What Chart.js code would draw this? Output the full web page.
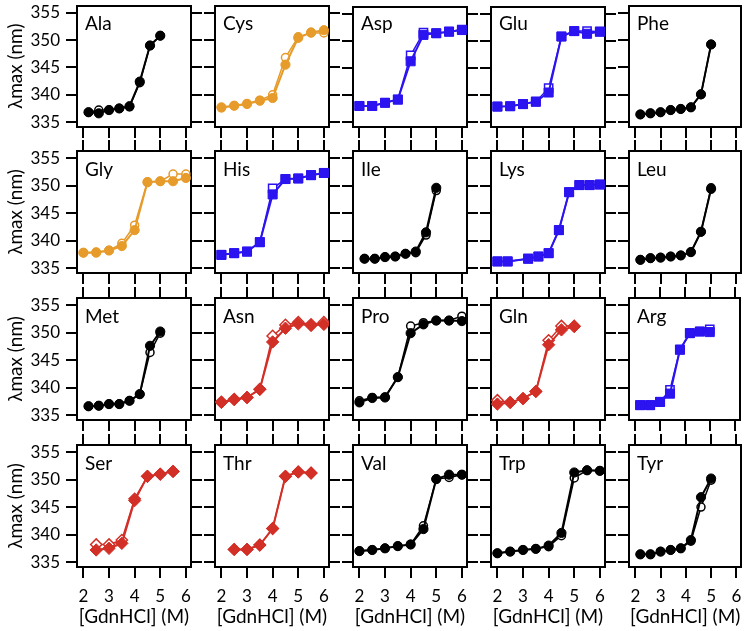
<!DOCTYPE html>
<html><head><meta charset="utf-8">
<script src="https://cdn.jsdelivr.net/npm/chart.js@4.4.1/dist/chart.umd.min.js"></script>
<style>
html,body{margin:0;padding:0;background:#fff;}
#wrap{position:relative;width:747px;height:631px;overflow:hidden;background:#fff;}
#wrap canvas{position:absolute;}
.lbl{position:absolute;font-family:Lato,sans-serif;font-size:19px;line-height:19px;color:#000;white-space:nowrap;}
</style></head><body><div id="wrap"></div>
<script>
// ---- tick labels ----
const xTicks = [2, 3, 4, 5, 6];
const yTicks = [335, 340, 345, 350, 355];
const xTitle = '[GdnHCl] (M)';
const yTitle = 'λmax (nm)';

// ---- x values (GdnHCl, M) ----
const xStep04 = [2.2, 2.6, 3.0, 3.4, 3.8, 4.2, 4.6, 5.0];
const xStep05 = [2.0, 2.5, 3.0, 3.5, 4.0, 4.5, 5.0, 5.5, 6.0];
const xLys = [2.0, 2.4, 3.2, 3.6, 4.0, 4.4, 4.8, 5.2, 5.6, 6.0];
const xGln = [2.0, 2.5, 3.0, 3.5, 4.0, 4.5, 5.0];
const xSerThr = [2.5, 3.0, 3.5, 4.0, 4.5, 5.0, 5.5];

// ---- lambda max (nm): filled and open series ----
const alaFilled = [336.8, 336.6, 337.2, 337.5, 337.9, 342.4, 349.0, 350.8];
const alaOpen   = [336.8, 337.2, 337.2, 337.5, 337.8, 342.2, 349.0, 350.8];
const cysFilled = [337.7, 338.0, 338.3, 338.9, 339.4, 345.5, 350.4, 351.4, 351.8];
const cysOpen   = [337.6, 338.0, 338.4, 339.0, 340.0, 346.8, 350.6, 351.3, 351.3];
const aspFilled = [338.0, 338.0, 338.6, 339.2, 346.3, 351.2, 351.5, 351.8, 352.1];
const aspOpen   = [338.0, 338.0, 338.6, 339.2, 347.4, 351.6, 351.5, 351.8, 352.2];
const gluFilled = [337.9, 337.95, 338.35, 338.8, 340.5, 350.9, 351.9, 351.4, 351.8];
const gluOpen   = [337.9, 337.95, 338.35, 338.8, 341.3, 350.9, 351.9, 351.9, 351.8];
const pheFilled = [336.4, 336.6, 336.8, 337.2, 337.4, 337.7, 340.1, 349.2];
const pheOpen   = [336.4, 336.6, 336.8, 337.2, 337.4, 337.7, 340.0, 349.2];

const glyFilled = [337.8, 337.8, 338.2, 339.0, 341.9, 350.6, 350.8, 350.8, 351.4];
const glyOpen   = [337.8, 337.9, 338.2, 339.5, 342.8, 350.7, 350.8, 352.1, 352.1];
const hisFilled = [337.4, 337.7, 338.0, 339.7, 348.4, 351.2, 351.3, 351.9, 352.3];
const hisOpen   = [337.4, 337.7, 338.0, 339.7, 349.5, 351.2, 351.3, 351.9, 352.3];
const ileFilled = [336.7, 336.7, 337.0, 337.1, 337.6, 338.0, 341.5, 349.6];
const ileOpen   = [336.7, 336.7, 337.0, 337.1, 337.6, 337.8, 341.0, 349.1];
const lysFilled = [336.2, 336.2, 336.7, 337.1, 337.7, 341.9, 348.8, 350.1, 350.1, 350.2];
const lysOpen   = [336.2, 336.2, 336.7, 337.1, 337.7, 341.9, 348.8, 350.1, 350.1, 350.2];
const leuFilled = [336.5, 336.8, 336.9, 337.1, 337.3, 337.9, 341.6, 349.4];
const leuOpen   = [336.5, 336.8, 336.9, 337.1, 337.3, 337.9, 341.6, 349.6];

const metFilled = [336.6, 336.7, 337.0, 337.0, 337.6, 338.8, 347.6, 350.2];
const metOpen   = [336.6, 336.7, 337.0, 337.0, 337.6, 338.8, 346.4, 349.9];
const asnFilled = [337.3, 337.8, 338.2, 339.7, 348.3, 350.8, 351.6, 351.3, 351.5];
const asnOpen   = [337.4, 337.9, 338.2, 339.7, 349.4, 351.4, 351.9, 351.5, 351.9];
const proFilled = [337.3, 338.1, 338.2, 341.9, 349.9, 351.5, 352.2, 352.2, 352.1];
const proOpen   = [337.6, 338.2, 338.3, 341.9, 351.2, 351.8, 352.2, 352.2, 353.0];
const glnFilled = [337.0, 337.3, 338.0, 339.3, 347.8, 350.5, 351.1];
const glnOpen   = [337.7, 337.3, 338.0, 339.3, 348.6, 351.2, 351.2];
const argFilled = [336.8, 336.8, 337.4, 338.9, 346.9, 349.9, 350.2, 350.1];
const argOpen   = [336.8, 336.8, 337.4, 339.6, 346.9, 349.9, 350.2, 350.6];

const serFilled = [337.2, 337.5, 338.4, 346.2, 350.6, 351.0, 351.5];
const serOpen   = [338.2, 338.2, 339.0, 346.5, 350.6, 351.0, 351.5];
const thrFilled = [337.3, 337.3, 338.1, 341.1, 350.6, 351.4, 351.2];
const thrOpen   = [337.3, 337.3, 338.1, 341.1, 350.6, 351.4, 351.2];
const valFilled = [337.0, 337.2, 337.5, 337.9, 338.2, 341.0, 350.1, 350.9, 350.9];
const valOpen   = [337.0, 337.2, 337.5, 337.9, 338.2, 341.6, 350.1, 350.4, 350.9];
const trpFilled = [336.6, 336.9, 337.2, 337.4, 338.0, 340.3, 351.3, 351.7, 351.6];
const trpOpen   = [336.6, 336.9, 337.2, 337.4, 337.8, 339.8, 350.3, 351.7, 351.6];
const tyrFilled = [336.4, 336.4, 336.9, 337.2, 337.5, 339.0, 346.8, 350.2];
const tyrOpen   = [336.4, 336.4, 336.9, 337.2, 337.5, 338.8, 345.0, 349.9];

// ---- panels (row-major) ----
const panelNames = ['Ala','Cys','Asp','Glu','Phe','Gly','His','Ile','Lys','Leu','Met','Asn','Pro','Gln','Arg','Ser','Thr','Val','Trp','Tyr'];
const panelX = [xStep04, xStep05, xStep05, xStep05, xStep04, xStep05, xStep05, xStep04, xLys, xStep04,
                xStep04, xStep05, xStep05, xGln, xStep04, xSerThr, xSerThr, xStep05, xStep05, xStep04];
const panelFilled = [alaFilled, cysFilled, aspFilled, gluFilled, pheFilled, glyFilled, hisFilled, ileFilled, lysFilled, leuFilled,
                     metFilled, asnFilled, proFilled, glnFilled, argFilled, serFilled, thrFilled, valFilled, trpFilled, tyrFilled];
const panelOpen = [alaOpen, cysOpen, aspOpen, gluOpen, pheOpen, glyOpen, hisOpen, ileOpen, lysOpen, leuOpen,
                   metOpen, asnOpen, proOpen, glnOpen, argOpen, serOpen, thrOpen, valOpen, trpOpen, tyrOpen];
const panelGroup = ['k','o','b','b','k','o','b','k','b','k','k','r','k','r','b','r','r','k','k','k'];

// ---- styles ----
const groupStyle = {
  k: {color: '#000000', shape: 'circle', r: 4.6},
  o: {color: '#E69B2A', shape: 'circle', r: 4.6},
  b: {color: '#2B14F0', shape: 'rect', r: 6.4},
  r: {color: '#D22F27', shape: 'rectRot', r: 6.2}
};
const FONT = 'Lato, sans-serif';
const W = 747, H = 631;
const colLeft = [77, 215, 353, 491, 629];
const rowTop = [5, 151, 298, 445];
const boxW = 114, boxH = 122;
const XMIN = 1.75, XMAX = 6.2, YMIN = 334.1, YMAX = 356.3;

const wrap = document.getElementById('wrap');

function fixedTicks(vals) {
  return function (s) { s.ticks = vals.map(v => ({value: v})); };
}

panelNames.forEach((name, idx) => {
  const row = Math.floor(idx / 5), col = idx % 5;
  const bl = colLeft[col], bt = rowTop[row];
  const lm = col === 0 ? bl : 12;
  const rm = col === 4 ? W - (bl + boxW) : 12;
  const tm = row === 0 ? bt : 12;
  const bm = row === 3 ? H - (bt + boxH) : 12;
  const cw = lm + boxW + rm, ch = tm + boxH + bm;

  const cv = document.createElement('canvas');
  cv.width = cw; cv.height = ch;
  cv.style.left = (bl - lm) + 'px';
  cv.style.top = (bt - tm) + 'px';
  cv.style.width = cw + 'px'; cv.style.height = ch + 'px';
  wrap.appendChild(cv);

  const st = groupStyle[panelGroup[idx]];
  const xs = panelX[idx];
  const filled = panelFilled[idx].map((y, i) => ({x: xs[i], y}));
  const open = panelOpen[idx].map((y, i) => ({x: xs[i], y}));

  const gridCommon = (drawTicks) => ({
    drawOnChartArea: false, drawTicks: drawTicks, tickLength: 11,
    color: '#000', lineWidth: 2
  });
  const border = {display: true, color: '#000', width: 2};
  const zeroPad = (s) => { s.paddingTop = 0; s.paddingBottom = 0; s.paddingLeft = 0; s.paddingRight = 0; };

  new Chart(cv, {
    type: 'line',
    data: {
      datasets: [
        {
          data: filled, borderColor: st.color, backgroundColor: st.color,
          pointBackgroundColor: st.color, pointBorderColor: st.color,
          pointStyle: st.shape, pointRadius: st.r, pointBorderWidth: 1,
          borderWidth: 2, tension: 0, fill: false
        },
        {
          data: open, borderColor: st.color, backgroundColor: '#ffffff',
          pointBackgroundColor: '#ffffff', pointBorderColor: st.color,
          pointStyle: st.shape, pointRadius: st.r - 0.6, pointBorderWidth: 1.5,
          borderWidth: 1.5, tension: 0, fill: false
        }
      ]
    },
    options: {
      responsive: false, devicePixelRatio: 1, animation: false,
      layout: {padding: 0},
      plugins: {legend: {display: false}, tooltip: {enabled: false}, title: {display: false}},
      scales: {
        x: {
          type: 'linear', position: 'bottom', min: XMIN, max: XMAX,
          afterBuildTicks: fixedTicks(xTicks),
          grid: gridCommon(true), border: border,
          ticks: {display: row === 3, padding: 8, maxRotation: 0, autoSkip: false,
                  color: '#000', font: {family: FONT, size: 17}},
          title: {display: row === 3, text: xTitle, color: '#000',
                  font: {family: FONT, size: 19}, padding: {top: 0, bottom: 3}},
          afterFit: (s) => { s.height = bm; zeroPad(s); }
        },
        x2: {
          type: 'linear', position: 'top', min: XMIN, max: XMAX,
          afterBuildTicks: fixedTicks(xTicks),
          grid: gridCommon(row !== 0), border: border,
          ticks: {display: false},
          afterFit: (s) => { s.height = tm; zeroPad(s); }
        },
        y: {
          type: 'linear', position: 'left', min: YMIN, max: YMAX,
          afterBuildTicks: fixedTicks(yTicks),
          grid: gridCommon(true), border: border,
          ticks: {display: col === 0, padding: 6, color: '#000', font: {family: FONT, size: 17}},
          title: {display: col === 0, text: yTitle, color: '#000',
                  font: {family: FONT, size: 19}, padding: {top: 4, bottom: 0}},
          afterFit: (s) => { s.width = lm; zeroPad(s); }
        },
        y2: {
          type: 'linear', position: 'right', min: YMIN, max: YMAX,
          afterBuildTicks: fixedTicks(yTicks),
          grid: gridCommon(col !== 4), border: border,
          ticks: {display: false},
          afterFit: (s) => { s.width = rm; zeroPad(s); }
        }
      }
    }
  });

  const lab = document.createElement('div');
  lab.className = 'lbl';
  lab.textContent = name;
  lab.style.left = (bl + 8) + 'px';
  lab.style.top = (bt + 8) + 'px';
  wrap.appendChild(lab);
});
</script>
</body></html>
